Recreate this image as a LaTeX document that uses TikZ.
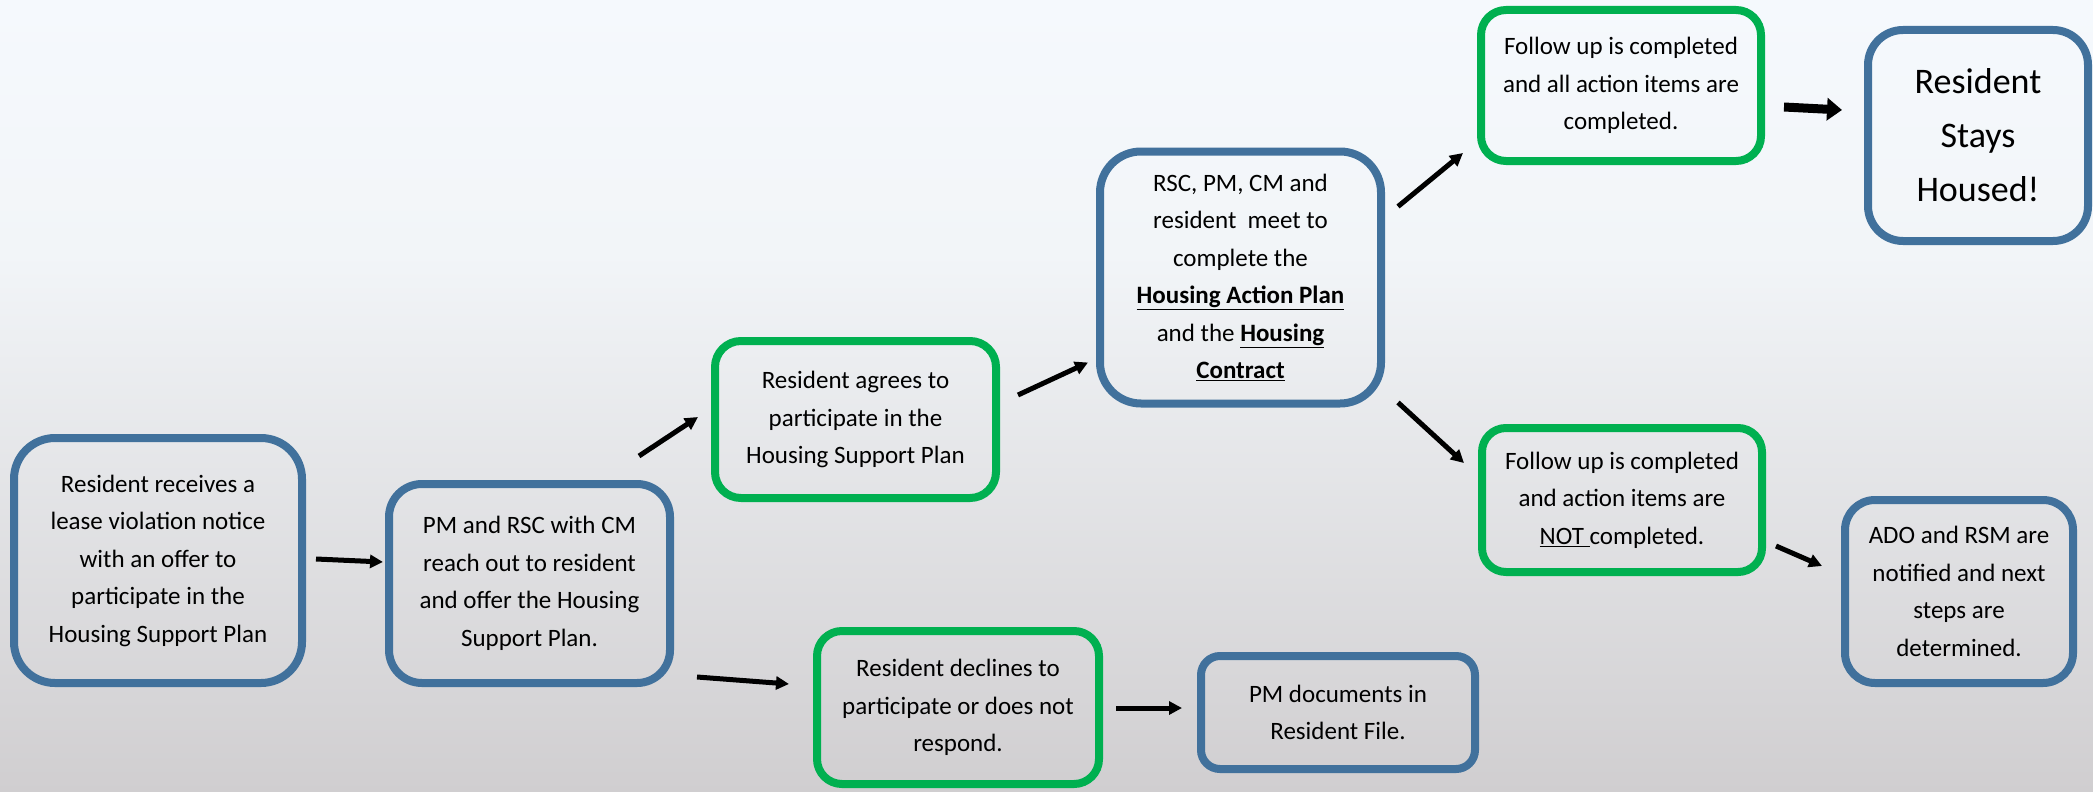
\documentclass[tikz,border=0pt]{standalone}
\usepackage{fontspec}
\setmainfont{Carlito}
\usetikzlibrary{arrows.meta,calc}
\definecolor{boxblue}{HTML}{41719C}
\definecolor{boxgreen}{HTML}{00B050}
\definecolor{bgtop}{HTML}{F5F9FD}
\definecolor{bgmid}{HTML}{F2F5F8}
\definecolor{bgbot}{HTML}{D0CED0}
\pgfdeclareverticalshading{bgshade}{100bp}{color(0bp)=(bgbot); color(25bp)=(bgbot); color(59bp)=(bgmid); color(75bp)=(bgtop); color(100bp)=(bgtop)}
\begin{document}
\begin{tikzpicture}[x=1pt,y=-1pt,
  box/.style={draw, line width=8pt, align=center, inner sep=0pt, font=\fontsize{25}{37.5}\selectfont},
  bluebox/.style={box, draw=boxblue},
  greenbox/.style={box, draw=boxgreen},
  arr/.style={line width=5pt, -{Triangle[length=13pt,width=13pt]}},
  bigarr/.style={line width=9pt, -{Triangle[length=15pt,width=22pt]}}
]
\useasboundingbox (0,0) rectangle (2093,792);
\shade[shading=bgshade] (0,0) rectangle (2093,792);

\node[bluebox, minimum width=288pt, minimum height=245pt, rounded corners=41pt] (b1) at (158,560.5)
  {Resident receives a\\lease violation notice\\with an offer to\\participate in the\\Housing Support Plan};
\node[bluebox, minimum width=281pt, minimum height=199pt, rounded corners=33pt] (b2) at (529.5,583.5)
  {PM and RSC with CM\\reach out to resident\\and offer the Housing\\Support Plan.};
\node[greenbox, minimum width=281pt, minimum height=157pt, rounded corners=26pt] (b3) at (855.5,419.5)
  {Resident agrees to\\participate in the\\Housing Support Plan};
\node[bluebox, minimum width=281pt, minimum height=252pt, rounded corners=41pt] (b4) at (1240.5,277.5)
  {RSC, PM, CM and\\resident\ \ meet to\\complete the\\\underline{\textbf{Housing Action Plan}}\\and the \underline{\textbf{Housing}}\\\underline{\textbf{Contract}}};
\node[greenbox, minimum width=280pt, minimum height=151pt, rounded corners=25pt] (b5) at (1621,85.5)
  {Follow up is completed\\and all action items are\\completed.};
\node[bluebox, minimum width=220pt, minimum height=211pt, rounded corners=35pt, font=\fontsize{36}{54}\selectfont] (b6) at (1978,135.5)
  {Resident\\Stays\\Housed!};
\node[greenbox, minimum width=280pt, minimum height=144pt, rounded corners=24pt] (b7) at (1622,500)
  {Follow up is completed\\and action items are\\\underline{NOT\ }completed.};
\node[bluebox, minimum width=228pt, minimum height=183pt, rounded corners=30pt] (b8) at (1959,591.5)
  {ADO and RSM are\\notified and next\\steps are\\determined.};
\node[greenbox, minimum width=282pt, minimum height=153pt, rounded corners=25pt] (b9) at (958,707.5)
  {Resident declines to\\participate or does not\\respond.};
\node[bluebox, minimum width=274pt, minimum height=113pt, rounded corners=19pt] (b10) at (1338,712.5)
  {PM documents in\\Resident File.};

\draw[arr] ($(b1.east)+(10,-1.5)$) -- ($(b2.west)+(-2,-21.5)$);
\draw[arr] ($(b2.north east)+(-35,-24)$) -- ($(b3.west)+(-13,-2.5)$);
\draw[arr] ($(b2.south east)+(23,-10)$) -- ($(b9.west)+(-24,-23.5)$);
\draw[arr] ($(b3.east)+(18,-24.5)$) -- ($(b4.south west)+(-8,-45)$);
\draw[arr] ($(b9.east)+(13,0.5)$) -- ($(b10.west)+(-15,-4.5)$);
\draw[arr] ($(b4.north east)+(13,59)$) -- ($(b5.south west)+(-14,-12)$);
\draw[bigarr] ($(b5.east)+(19,21.5)$) -- ($(b6.west)+(-22,-25.5)$);
\draw[arr] ($(b4.south east)+(13,-5)$) -- ($(b7.north west)+(-14,39)$);
\draw[arr] ($(b7.east)+(10,46)$) -- ($(b8.west)+(-19,-25.5)$);
\end{tikzpicture}
\end{document}
